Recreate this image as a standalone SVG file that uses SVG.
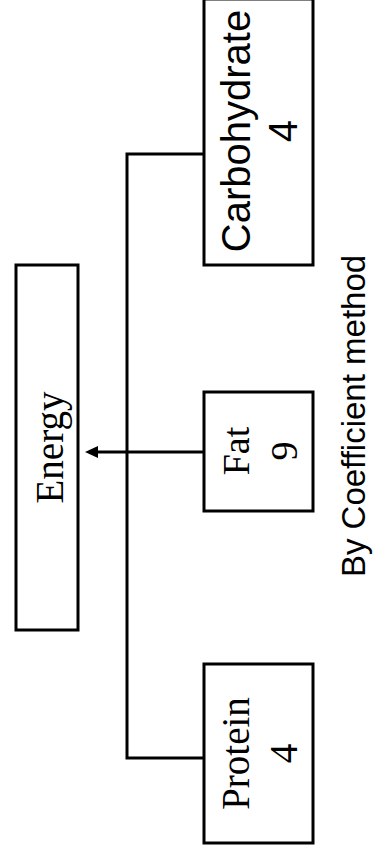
<svg xmlns="http://www.w3.org/2000/svg" width="373" height="859" viewBox="0 0 373 859">
<style>
.box{fill:#fff;stroke:#000;stroke-width:3}
.line{fill:none;stroke:#000;stroke-width:3}
.serif{font-family:"Liberation Serif","Times New Roman",serif;fill:#000}
.sans{font-family:"Liberation Sans",Arial,sans-serif;fill:#000}
</style>
<rect width="373" height="859" fill="#fff"/>
<g id="connectors">
<path class="line" d="M204,154 H127 V758 H204"/>
<path class="line" d="M204,452 H97"/>
<path d="M85,452 L98,446 L98,458 Z" fill="#000"/>
</g>
<g id="energy">
<rect class="box" x="16" y="265" width="62" height="365"/>
<text class="serif" font-size="39" text-anchor="middle" transform="translate(0,447.5) rotate(-90)" x="0" y="63">Energy</text>
</g>
<g id="carbohydrate">
<rect class="box" x="204" y="-1" width="109" height="266"/>
<text class="sans" font-size="40" text-anchor="middle" transform="translate(0,131) rotate(-90)"><tspan x="0" y="250">Carbohydrate</tspan><tspan x="0" y="297">4</tspan></text>
</g>
<g id="fat">
<rect class="box" x="204" y="392" width="109" height="119"/>
<text class="serif" font-size="38" text-anchor="middle" transform="translate(0,451) rotate(-90)"><tspan x="0" y="249">Fat</tspan><tspan x="0" y="297">9</tspan></text>
</g>
<g id="protein">
<rect class="box" x="204" y="664" width="109" height="179"/>
<text class="serif" font-size="39" text-anchor="middle" transform="translate(0,753.5) rotate(-90)"><tspan x="0" y="249">Protein</tspan><tspan x="0" y="297">4</tspan></text>
</g>
<g id="caption">
<text class="sans" font-size="33" text-anchor="middle" transform="translate(0,416) rotate(-90)" x="0" y="365">By Coefficient method</text>
</g>
</svg>
